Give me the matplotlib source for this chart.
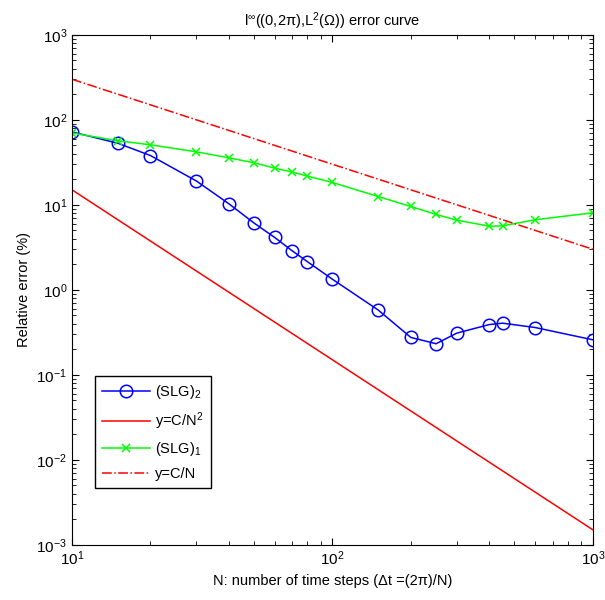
import numpy as np
import matplotlib.pyplot as plt
from matplotlib.ticker import NullFormatter

plt.rcParams['font.family'] = ['Liberation Sans', 'DejaVu Sans']
plt.rcParams['mathtext.fontset'] = 'custom'
plt.rcParams['mathtext.rm'] = 'Liberation Sans'
plt.rcParams['mathtext.it'] = 'Liberation Sans'
plt.rcParams['mathtext.default'] = 'regular'

# number of time steps
N = [10, 15, 20, 30, 40, 50, 60, 70, 80, 100, 150, 200, 250, 300, 400, 450, 600, 1000]

# relative errors (%)
slg2 = [72, 53, 38, 19.1, 10.3, 6.1, 4.13, 2.88, 2.15, 1.33,
        0.577, 0.275, 0.232, 0.309, 0.39, 0.405, 0.36, 0.258]
slg1 = [70, 56.6, 50.8, 42, 35.7, 31.2, 27, 24.3, 21.8, 18.3,
        12.5, 9.55, 7.7, 6.6, 5.6, 5.65, 6.67, 8.05]

# reference lines, end points
N_ref = [10, 1000]
ref_n2 = [15, 0.0015]
ref_n1 = [300, 3]

# major ticks
xticks = [10, 100, 1000]
yticks = [1e-3, 1e-2, 1e-1, 1e0, 1e1, 1e2, 1e3]

fig = plt.figure(figsize=(6.05, 6.0), dpi=100)
ax = fig.add_axes([0.119, 0.092, 0.861, 0.85])

ax.loglog(N, slg2, '-o', color='#0000ff', lw=1.1, ms=9, mfc='none', mew=1.1,
          label='(SLG)$_2$')
ax.loglog(N_ref, ref_n2, '-', color='#ff0000', lw=1.1, label='y=C/N$^2$')
ax.loglog(N, slg1, '-x', color='#00ff00', lw=1.1, ms=6, mew=1.1,
          label='(SLG)$_1$')
ax.loglog(N_ref, ref_n1, '-.', color='#ff0000', lw=1.1, label='y=C/N')

ax.set_xticks(xticks)
ax.set_yticks(yticks)
ax.set_xlim(10, 1000)
ax.set_ylim(1e-3, 1e3)
ax.xaxis.set_minor_formatter(NullFormatter())
ax.yaxis.set_minor_formatter(NullFormatter())
ax.tick_params(which='both', direction='in', top=True, right=True, labelsize=11)
ax.tick_params(which='major', length=5)
ax.tick_params(which='minor', length=3)

ax.set_title(r'l$^{\infty}$((0,2π),L$^{2}$(Ω)) error curve', fontsize=10.5)
ax.set_xlabel('N: number of time steps (Δt =(2π)/N)', fontsize=10.5)
ax.set_ylabel('Relative error (%)', fontsize=10.5)

leg = ax.legend(loc='upper left', bbox_to_anchor=(0.044, 0.331), fontsize=10.5,
                fancybox=False, edgecolor='black', framealpha=1,
                borderaxespad=0, handlelength=3.3, handletextpad=0.35,
                borderpad=0.5, labelspacing=0.6)
leg.get_frame().set_linewidth(1)

fig.savefig('out.png')
